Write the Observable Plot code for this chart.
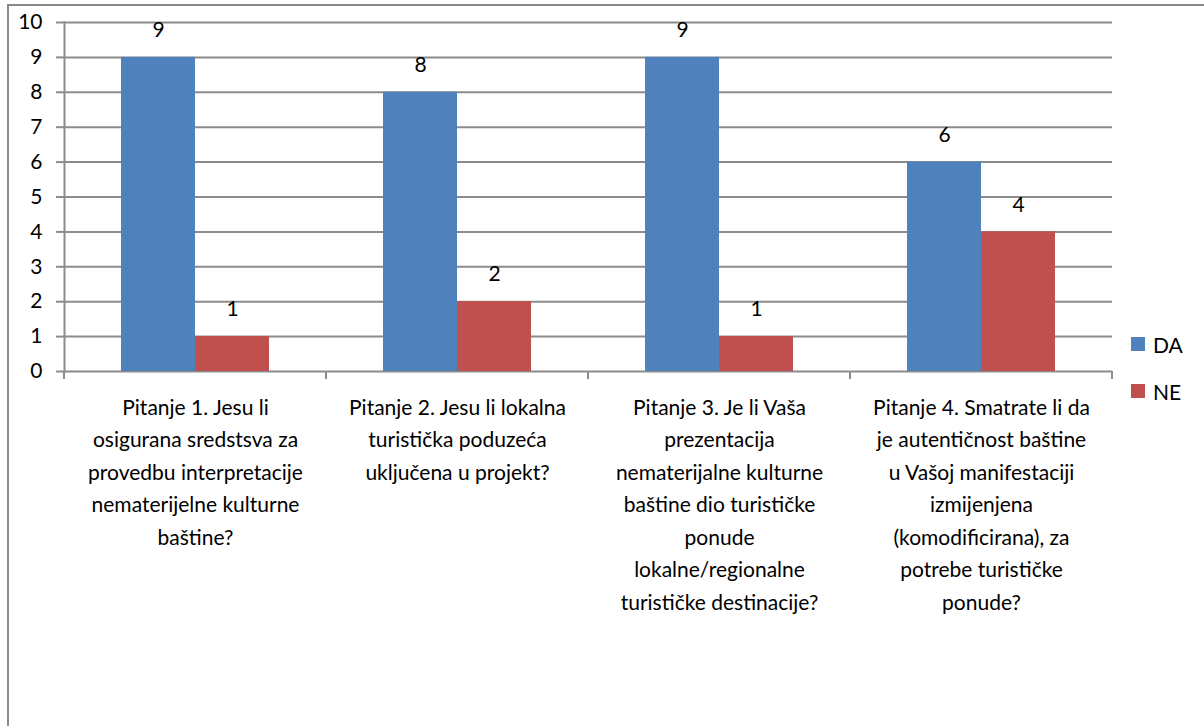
<!DOCTYPE html>
<html>
<head>
<meta charset="utf-8">
<script src="https://cdn.jsdelivr.net/npm/d3@7"></script>
<script src="https://cdn.jsdelivr.net/npm/@observablehq/plot@0.6"></script>
<style>
  body { margin: 0; background: #fff; }
  #wrap { position: relative; width: 1204px; height: 726px; overflow: hidden; font-family: Lato, "Open Sans", sans-serif; color: #000; }
  #border { position: absolute; left: 7px; top: 4px; width: 1400px; height: 900px; border-left: 2px solid #8a8a8a; border-top: 2px solid #8a8a8a; }
  #chart { position: absolute; left: 0; top: 0; }
  #legend { position: absolute; left: 1131px; top: 332px; font-size: 21px; }
  .li { display: flex; align-items: center; height: 24px; margin-bottom: 23px; }
  .sw { width: 14px; height: 14px; margin-right: 8px; }
</style>
</head>
<body>
<div id="wrap"><div id="border"></div><div id="chart"></div><div id="legend"></div></div>
<script>
const categories = [
  "Pitanje 1. Jesu li\nosigurana sredstsva za\nprovedbu interpretacije\nnematerijelne kulturne\nbaštine?",
  "Pitanje 2. Jesu li lokalna\nturistička poduzeća\nuključena u projekt?",
  "Pitanje 3. Je li Vaša\nprezentacija\nnematerijalne kulturne\nbaštine dio turističke\nponude\nlokalne/regionalne\nturističke destinacije?",
  "Pitanje 4. Smatrate li da\nje autentičnost baštine\nu Vašoj manifestaciji\nizmijenjena\n(komodificirana), za\npotrebe turističke\nponude?"
];
const series = ["DA", "NE"];
const daValues = [9, 8, 9, 6];
const neValues = [1, 2, 1, 4];
const seriesColors = ["#4F81BD", "#C0504D"];
const yTicks = [0, 1, 2, 3, 4, 5, 6, 7, 8, 9, 10];

const gridColor = "#8c8c8c";
const font = "Lato, 'Open Sans', sans-serif";

const data = [];
categories.forEach((c, i) => {
  data.push({category: c, series: "DA", value: daValues[i]});
  data.push({category: c, series: "NE", value: neValues[i]});
});

// Category-boundary tick marks below the baseline (drawn in each facet, in facet coordinates)
function boundaryTicks(index, scales, values, dimensions) {
  const {width, marginLeft, marginRight} = dimensions;
  const y0 = scales.y(0);
  const fx = scales.fx;
  const bw = (fx && typeof fx.bandwidth === "function")
    ? fx.bandwidth()
    : (width - marginLeft - marginRight) / categories.length;
  const g = d3.create("svg:g").attr("stroke", gridColor).attr("stroke-width", 2).attr("fill", "none");
  [marginLeft, marginLeft + bw].forEach(x =>
    g.append("line").attr("x1", x).attr("x2", x).attr("y1", y0).attr("y2", y0 + 8));
  return g.node();
}

const chart = Plot.plot({
  width: 1204,
  height: 726,
  marginLeft: 63,
  marginRight: 92,
  marginTop: 22,
  marginBottom: 355,
  style: {fontFamily: font, fontSize: "20px", color: "#000", background: "transparent"},
  fx: {domain: categories, padding: 0, axis: null, label: null},
  x: {domain: series, paddingInner: 0, paddingOuter: 0.75, axis: null},
  y: {domain: [0, 10], axis: null},
  color: {domain: series, range: seriesColors},
  marks: [
    Plot.gridY(yTicks, {stroke: gridColor, strokeOpacity: 1, strokeWidth: 2}),
    Plot.frame({anchor: "left", facetAnchor: "left", stroke: gridColor, strokeWidth: 2, strokeOpacity: 1}),
    Plot.axisY(yTicks, {tickSize: 8, tickPadding: 14, fontSize: 21, stroke: gridColor, strokeWidth: 2, strokeOpacity: 1, fill: "#000", label: null}),
    Plot.axisFx({anchor: "bottom", tickSize: 0, tickPadding: 20, fontSize: 21, lineHeight: 1.55, fill: "#000", label: null}),
    Plot.barY(data, {fx: "category", x: "series", y: "value", fill: "series", inset: 0}),
    Plot.text(data, {fx: "category", x: "series", y: "value", text: d => String(d.value), dy: -27, fontSize: 21, fill: "#000"}),
    boundaryTicks
  ]
});
document.getElementById("chart").appendChild(chart);

const legend = document.getElementById("legend");
series.forEach((s, i) => {
  const row = document.createElement("div");
  row.className = "li";
  const sw = document.createElement("span");
  sw.className = "sw";
  sw.style.background = seriesColors[i];
  const t = document.createElement("span");
  t.textContent = s;
  row.appendChild(sw); row.appendChild(t);
  legend.appendChild(row);
});
</script>
</body>
</html>
